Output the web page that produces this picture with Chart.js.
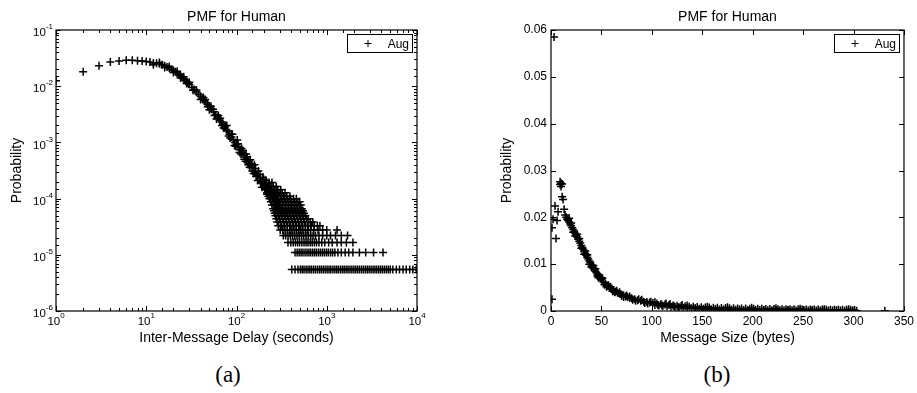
<!DOCTYPE html>
<html>
<head>
<meta charset="utf-8">
<script src="https://cdn.jsdelivr.net/npm/chart.js@4/dist/chart.umd.min.js"></script>
<style>
  body { margin: 0; background: #fff; width: 917px; height: 393px; position: relative; overflow: hidden; }
  canvas { position: absolute; top: 0; }
  #delayChart { left: 0; }
  #sizeChart { left: 458px; }
  .caption { position: absolute; top: 362px; font: 23px "Liberation Serif", serif; color: #000; transform: translateX(-50%); }
</style>
</head>
<body>
<canvas id="delayChart" width="458" height="352"></canvas>
<canvas id="sizeChart" width="459" height="352"></canvas>
<div class="caption" style="left:228px">(a)</div>
<div class="caption" style="left:717px">(b)</div>
<script>
// ---- (a) inter-message delay PMF, log-log ----
// tick labels are 10^exp, exponents drawn as superscripts
const delayTickExps = ['0', '1', '2', '3', '4'];
const delayProbTickExps = ['-6', '-5', '-4', '-3', '-2', '-1'];

// main curve
const delayX = [1, 2, 3, 4, 5, 6, 7, 8, 9, 10, 11, 12, 13, 14, 15, 16, 17, 18, 19, 20,
  21, 22, 23, 24, 25, 26, 27, 28, 29, 30, 32, 34, 36, 38, 40, 42, 44, 46, 48, 50,
  53, 56, 59, 62, 65, 68, 71, 74, 77, 80, 84, 88, 92, 96, 100,
  105, 110, 115, 120, 125, 130, 135, 140, 145, 150, 160, 170, 180, 190, 200,
  215, 230, 245, 260, 280, 300];
const delayP = [0.0125, 0.018, 0.023, 0.027, 0.028, 0.029, 0.029, 0.0285, 0.028, 0.0275,
  0.027, 0.026, 0.0255, 0.025, 0.024, 0.023, 0.022, 0.021, 0.020, 0.019,
  0.018, 0.017, 0.016, 0.0152, 0.0144, 0.0136, 0.0128, 0.0121, 0.0114, 0.0107,
  0.0096, 0.0087, 0.0079, 0.0072, 0.0066, 0.0060, 0.0055, 0.0051, 0.0047, 0.0043,
  0.0039, 0.0035, 0.0031, 0.0028, 0.0025, 0.0023, 0.0021, 0.0019, 0.0017, 0.0016,
  0.0014, 0.00125, 0.00112, 0.001, 0.00092,
  0.00082, 0.00074, 0.00067, 0.0006, 0.00055, 0.0005, 0.00046, 0.00042, 0.00039, 0.00036,
  0.0003, 0.00026, 0.00023, 0.0002, 0.00018,
  0.000155, 0.000135, 0.00012, 0.000105, 0.00009, 0.000078];

// points either side of the curve (band thickness)
const delaySpreadX = [12, 14, 16, 18, 20, 22, 24, 26, 28, 30, 33, 36,
  40, 43, 45, 48, 50, 52, 55, 57, 60, 63, 66, 69, 72, 75, 78, 82, 85, 88, 90, 95, 98,
  102, 104, 108, 112, 114, 118, 122, 126, 128, 132, 135, 140, 142, 148, 150, 155, 158,
  162, 165, 172, 175, 182, 185, 192, 195, 200, 205, 212, 218, 225, 228, 235, 250, 255, 270, 275, 290];
const delaySpreadP = [0.0240, 0.0265, 0.0215, 0.0225, 0.0175, 0.0185, 0.0140, 0.0148, 0.0112, 0.0118, 0.0085, 0.0086,
  0.0058, 0.0063, 0.0058, 0.0043, 0.0038, 0.0044, 0.0039, 0.0030, 0.0026, 0.0030, 0.0027, 0.0020, 0.0018, 0.0020,
  0.0020, 0.0013, 0.0012, 0.0014, 0.0014, 0.00088, 0.00085,
  0.0011, 0.00095, 0.00066, 0.00062, 0.00078, 0.00072, 0.00050, 0.00046, 0.00062, 0.00055, 0.00040, 0.00036,
  0.00049, 0.00042, 0.00031, 0.00028, 0.00040,
  0.00034, 0.00025, 0.00021, 0.00031, 0.00027, 0.00019, 0.00016, 0.00024, 0.00022, 0.00015, 0.00021,
  0.00012, 0.00012, 0.00017, 0.00017, 0.0001, 0.00014, 0.000085, 0.00012, 0.00007];

// tail: counts are quantised, so points sit on rows
const tailLevels = [5.5e-6, 1.1e-5, 1.65e-5, 2.2e-5, 2.75e-5, 3.3e-5, 3.85e-5, 4.4e-5, 4.95e-5,
  5.5e-5, 6.05e-5, 6.6e-5, 7.7e-5, 8.8e-5, 9.9e-5, 1.1e-4, 1.265e-4, 1.43e-4, 1.65e-4, 1.93e-4];
const tailRowX = [
  [410, 445, 480, 510, 535, 560, 590, 620, 650, 680, 715, 750, 790, 830, 870, 915, 960, 1010, 1060, 1110,
   1170, 1230, 1290, 1350, 1420, 1490, 1560, 1640, 1720, 1810, 1900, 2000, 2100, 2200, 2310, 2430, 2550,
   2680, 2810, 2950, 3100, 3260, 3420, 3590, 3770, 3960, 4160, 4370, 4590, 4820, 5060, 5400, 5900, 6400,
   7000, 7600, 8300, 9000, 9800],
  [445, 470, 495, 520, 545, 575, 605, 635, 665, 700, 735, 770, 810, 850, 895, 940, 990, 1040, 1100, 1160,
   1230, 1330, 1450, 1600, 1750, 1950, 2300, 2700, 3300, 4200],
  [372, 400, 425, 450, 475, 500, 530, 560, 590, 620, 655, 690, 730, 770, 820, 880, 950, 1050, 1150, 1300,
   1450, 1650, 1950],
  [330, 350, 372, 395, 418, 442, 468, 495, 525, 555, 590, 625, 665, 705, 750, 820, 900, 1000, 1100, 1250, 1450, 1700],
  [305, 325, 345, 366, 388, 410, 435, 460, 487, 515, 545, 580, 615, 660, 720, 800, 900, 1000, 1300],
  [290, 313, 338, 365, 394, 425, 459, 496, 536, 579, 625, 675, 729, 787, 840],
  [282, 305, 329, 355, 383, 414, 447, 483, 521, 563, 608, 657, 700],
  [276, 298, 322, 348, 375, 405, 437, 472, 510, 551, 595, 620],
  [270, 292, 315, 340, 367, 396, 428, 462, 499, 539, 580],
  [265, 286, 309, 334, 360, 389, 420, 454, 490, 529, 560],
  [260, 281, 303, 327, 353, 381, 412, 445, 480, 518, 545],
  [255, 275, 297, 321, 347, 375, 405, 437, 472, 510, 530],
  [247, 267, 288, 311, 336, 363, 392, 423, 457, 494, 515],
  [240, 259, 280, 302, 326, 352, 380, 410, 443, 478, 500],
  [232, 251, 271, 293, 316, 341, 368, 397, 429, 460],
  [226, 244, 264, 285, 308, 333, 360, 390],
  [218, 235, 254, 274, 296, 320, 345],
  [210, 227, 245, 265, 286, 309],
  [203, 219, 237, 256, 276],
  [196, 212, 229, 247]
];

// ---- (b) message size PMF, linear ----
const sizeTickLabels = ['0', '50', '100', '150', '200', '250', '300', '350'];
const sizeProbTickLabels = ['0', '0.01', '0.02', '0.03', '0.04', '0.05', '0.06'];

const sizeHeadX = [1, 1, 2, 3, 4, 5, 6, 7, 9, 9, 10, 10, 11, 11, 12, 13];
const sizeHeadP = [0.0025, 0.0178, 0.0196, 0.0585, 0.0224, 0.0155, 0.0193, 0.0212,
  0.0270, 0.0276, 0.0266, 0.0273, 0.0244, 0.0271, 0.0238, 0.0217];

const sizeX = [14, 15, 16, 17, 18, 19, 20, 21, 22, 23, 24, 25, 26, 27, 28, 29, 30, 31, 32, 33,
  34, 35, 36, 37, 38, 39, 40, 41, 42, 43, 44, 45, 46, 47, 48, 49, 50,
  52, 54, 56, 58, 60, 62, 64, 66, 68, 70, 72, 74, 76, 78, 80,
  83, 86, 89, 92, 95, 98, 101,
  105, 109, 113, 117, 121, 125, 129, 133, 137, 141,
  145, 149, 153, 157, 161, 165, 169, 173, 177, 181,
  185, 189, 193, 197, 201, 205, 209, 213, 217, 221,
  225, 229, 233, 237, 241, 245, 249, 253, 257, 261,
  265, 269, 273, 277, 281, 285, 289, 293, 297, 301, 331];
const sizeP = [0.0205, 0.0200, 0.0196, 0.0193, 0.0190, 0.0186, 0.0182, 0.0178, 0.0174, 0.0170,
  0.0166, 0.0162, 0.0158, 0.0153, 0.0149, 0.0145, 0.0140, 0.0136, 0.0132, 0.0127,
  0.0123, 0.0119, 0.0115, 0.0111, 0.0107, 0.0103, 0.0099, 0.0095, 0.0092, 0.0089,
  0.0085, 0.0082, 0.0079, 0.0076, 0.0073, 0.0070, 0.0067,
  0.0062, 0.0058, 0.0054, 0.0050, 0.0047, 0.0044, 0.0041, 0.0039, 0.0037, 0.0035,
  0.0033, 0.0031, 0.0030, 0.0028, 0.0027,
  0.0025, 0.0023, 0.0022, 0.0020, 0.0019, 0.0018, 0.0017,
  0.0016, 0.0015, 0.0014, 0.0013, 0.0012, 0.0011, 0.00105, 0.001, 0.00095, 0.0009,
  0.00085, 0.0008, 0.00077, 0.00074, 0.0007, 0.00067, 0.00064, 0.00062, 0.0006, 0.00058,
  0.00056, 0.00054, 0.00052, 0.0005, 0.00048, 0.00047, 0.00046, 0.00044, 0.00043, 0.00042,
  0.0004, 0.00039, 0.00038, 0.00037, 0.00036, 0.00035, 0.00034, 0.00033, 0.00032, 0.00031,
  0.00031, 0.0003, 0.00029, 0.00029, 0.00028, 0.00027, 0.00027, 0.00026, 0.00025, 0.00024, 0.00005];

// scatter around the curve
const sizeSpreadX = [18, 20, 22, 24, 26, 28, 30, 33, 34, 36, 38, 40, 42, 44, 46, 47, 50, 51, 53, 55,
  57, 59, 61, 63, 65, 68, 70, 72, 75, 78, 81, 84, 87, 90, 93, 96, 99, 103, 106,
  110, 114, 118, 122, 126, 130, 135, 143, 155, 163, 175, 187, 199, 211, 223, 235, 247, 259, 271, 283, 295, 299];
const sizeSpreadP = [0.0198, 0.0188, 0.0168, 0.0160, 0.0164, 0.0155, 0.0134, 0.0121, 0.0128, 0.0120,
  0.0100, 0.0094, 0.0097, 0.0090, 0.0075, 0.0071, 0.0071, 0.0070, 0.0056, 0.0052,
  0.0055, 0.0052, 0.0042, 0.0040, 0.0043, 0.0040, 0.0032, 0.0030, 0.0033, 0.0031,
  0.0024, 0.0022, 0.0025, 0.0024, 0.0017, 0.0016, 0.0020, 0.0019, 0.0013,
  0.0012, 0.0016, 0.0015, 0.0010, 0.0008, 0.0013, 0.0012, 0.0006, 0.0009, 0.0004,
  0.0008, 0.0003, 0.0007, 0.0002, 0.0006, 0.0002, 0.0005, 0.0002, 0.0004, 0.0001, 0.0004, 0.0001];

// lower edge of the flat tail band
const sizeBandX = [103, 107, 111, 115, 119, 123, 127, 131, 135, 139, 143, 147, 151, 155, 159, 163, 167,
  171, 175, 179, 183, 187, 191, 195, 199, 203, 207, 211, 215, 219, 223, 227, 231, 235, 239, 243,
  247, 251, 255, 259, 263, 267, 271, 275, 279, 283, 287, 291, 295, 299, 303];
const sizeBandP = [0.0013, 0.0012, 0.0011, 0.001, 0.0009, 0.00085, 0.0008, 0.00072, 0.00066, 0.0006,
  0.00055, 0.0005, 0.00046, 0.00042, 0.00039, 0.00036, 0.00034, 0.00032, 0.0003, 0.00028,
  0.00026, 0.00025, 0.00024, 0.00022, 0.00021, 0.0002, 0.00019, 0.00018, 0.00017, 0.00016,
  0.00016, 0.00015, 0.00015, 0.00014, 0.00014, 0.00013, 0.00013, 0.00012, 0.00012, 0.00011,
  0.00011, 0.0001, 0.0001, 0.0001, 0.00009, 0.00009, 0.00009, 0.00008, 0.00008, 0.00008, 0.00007];

const FONT = '"Liberation Sans", Arial, sans-serif';

function pairs(xs, ys) {
  return xs.map((x, i) => ({ x, y: ys[i] }));
}

function isPow10(v) {
  const e = Math.round(Math.log10(v));
  return Math.abs(Math.log10(v) - e) < 1e-9 ? e : null;
}

// draws "10" with a raised exponent; anchor is 'center' (x axis) or 'right' (y axis)
function drawPowerLabel(ctx, exp, x, y, anchor) {
  ctx.font = '11.5px ' + FONT;
  const bw = ctx.measureText('10').width;
  ctx.font = '8px ' + FONT;
  const ew = ctx.measureText(exp).width;
  const left = anchor === 'center' ? x - (bw + ew) / 2 : x - bw - ew;
  ctx.textAlign = 'left';
  ctx.textBaseline = 'middle';
  ctx.font = '11.5px ' + FONT;
  ctx.fillText('10', left, y + 3);
  ctx.font = '8px ' + FONT;
  ctx.fillText(exp, left + bw, y - 3);
}

// MATLAB-like box with inward tick marks, log tick labels and a boxed legend
const matlabBox = {
  id: 'matlabBox',
  afterDraw(chart) {
    const { ctx, chartArea: a, scales } = chart;
    const logAxes = chart.options.scales.x.type === 'logarithmic';
    ctx.save();
    ctx.strokeStyle = '#000';
    ctx.lineWidth = 1.2;
    ctx.strokeRect(a.left, a.top, a.right - a.left, a.bottom - a.top);

    ctx.lineWidth = 1;
    ctx.beginPath();
    scales.x.ticks.forEach(t => {
      const px = Math.round(scales.x.getPixelForValue(t.value)) + 0.5;
      const len = (!logAxes || isPow10(t.value) !== null) ? 5 : 3;
      ctx.moveTo(px, a.bottom); ctx.lineTo(px, a.bottom - len);
      ctx.moveTo(px, a.top); ctx.lineTo(px, a.top + len);
    });
    scales.y.ticks.forEach(t => {
      const py = Math.round(scales.y.getPixelForValue(t.value)) + 0.5;
      const len = (!logAxes || isPow10(t.value) !== null) ? 5 : 3;
      ctx.moveTo(a.left, py); ctx.lineTo(a.left + len, py);
      ctx.moveTo(a.right, py); ctx.lineTo(a.right - len, py);
    });
    ctx.stroke();

    if (logAxes) {
      ctx.fillStyle = '#000';
      scales.x.ticks.forEach(t => {
        const e = isPow10(t.value);
        if (e === null) return;
        drawPowerLabel(ctx, delayTickExps[e], scales.x.getPixelForValue(t.value), a.bottom + 8, 'center');
      });
      scales.y.ticks.forEach(t => {
        const e = isPow10(t.value);
        if (e === null) return;
        drawPowerLabel(ctx, delayProbTickExps[e + 6], a.left - 3, scales.y.getPixelForValue(t.value), 'right');
      });
    }

    // legend box, top right inside the axes
    const w = 65, h = 18;
    const bx = a.right - 5 - w, by = a.top + 4;
    ctx.fillStyle = '#fff';
    ctx.fillRect(bx, by, w, h);
    ctx.strokeRect(bx + 0.5, by + 0.5, w, h);
    const cx = bx + 21, cy = by + h / 2 + 0.5;
    ctx.beginPath();
    ctx.moveTo(cx - 3.5, cy); ctx.lineTo(cx + 3.5, cy);
    ctx.moveTo(cx, cy - 3.5); ctx.lineTo(cx, cy + 3.5);
    ctx.stroke();
    ctx.fillStyle = '#000';
    ctx.font = '12px ' + FONT;
    ctx.textAlign = 'right';
    ctx.textBaseline = 'middle';
    ctx.fillText(chart.data.datasets[0].label, bx + w - 3, cy + 1);
    ctx.restore();
  }
};

function baseOptions(rightPad) {
  return {
    responsive: false,
    animation: false,
    devicePixelRatio: 1,
    layout: { padding: { left: 0, right: rightPad, top: 0, bottom: 0 } },
    plugins: {
      legend: { display: false },
      tooltip: { enabled: false },
      title: {
        display: true,
        text: 'PMF for Human',
        fullSize: false,
        color: '#000',
        font: { family: FONT, size: 14, weight: 'normal', lineHeight: 1.2 },
        padding: { top: 8.6, bottom: 4.6 }
      }
    }
  };
}

function scatterSet(points) {
  return {
    label: 'Aug',
    data: points,
    pointStyle: 'cross',
    pointRadius: 4,
    pointBorderWidth: 1.5,
    pointBorderColor: '#000',
    pointBackgroundColor: '#000',
    showLine: false
  };
}

function axisTitle(text, pad) {
  return {
    display: true,
    text,
    color: '#000',
    font: { family: FONT, size: 14, lineHeight: 1.2 },
    padding: pad
  };
}

function buildDelayChart() {
  const points = pairs(delayX, delayP).concat(pairs(delaySpreadX, delaySpreadP));
  tailRowX.forEach((row, i) => {
    row.forEach(x => points.push({ x, y: tailLevels[i] }));
  });

  const opts = baseOptions(41);
  opts.scales = {
    x: {
      type: 'logarithmic',
      min: 1, max: 10000,
      grid: { display: false, drawTicks: false },
      border: { display: false },
      ticks: { autoSkip: false, maxRotation: 0, callback: () => '' },
      title: axisTitle('Inter-Message Delay (seconds)', { top: 0, bottom: 5.6 }),
      afterFit: s => { s.height = 41; }
    },
    y: {
      type: 'logarithmic',
      min: 1e-6, max: 1e-1,
      grid: { display: false, drawTicks: false },
      border: { display: false },
      ticks: { autoSkip: false, callback: () => '' },
      title: axisTitle('Probability', { top: 8.6, bottom: 0 }),
      afterFit: s => { s.width = 56; }
    }
  };

  new Chart(document.getElementById('delayChart'), {
    type: 'scatter',
    data: { datasets: [scatterSet(points)] },
    options: opts,
    plugins: [matlabBox]
  });
}

function buildSizeChart() {
  const points = pairs(sizeHeadX, sizeHeadP)
    .concat(pairs(sizeX, sizeP))
    .concat(pairs(sizeSpreadX, sizeSpreadP))
    .concat(pairs(sizeBandX, sizeBandP));

  const opts = baseOptions(10);
  opts.scales = {
    x: {
      type: 'linear',
      min: 0, max: 350,
      grid: { display: false, drawTicks: false },
      border: { display: false },
      ticks: {
        stepSize: 50, autoSkip: false, maxRotation: 0, padding: 3, color: '#000',
        font: { family: FONT, size: 12 },
        callback: v => sizeTickLabels[Math.round(v / 50)]
      },
      title: axisTitle('Message Size (bytes)', { top: 0, bottom: 5.6 }),
      afterFit: s => { s.height = 41; }
    },
    y: {
      type: 'linear',
      min: 0, max: 0.06,
      grid: { display: false, drawTicks: false },
      border: { display: false },
      ticks: {
        stepSize: 0.01, autoSkip: false, padding: 4, color: '#000',
        font: { family: FONT, size: 12 },
        callback: v => sizeProbTickLabels[Math.round(v / 0.01)]
      },
      title: axisTitle('Probability', { top: 40.6, bottom: 0 }),
      afterFit: s => { s.width = 93; }
    }
  };

  new Chart(document.getElementById('sizeChart'), {
    type: 'scatter',
    data: { datasets: [scatterSet(points)] },
    options: opts,
    plugins: [matlabBox]
  });
}

buildDelayChart();
buildSizeChart();
</script>
</body>
</html>
